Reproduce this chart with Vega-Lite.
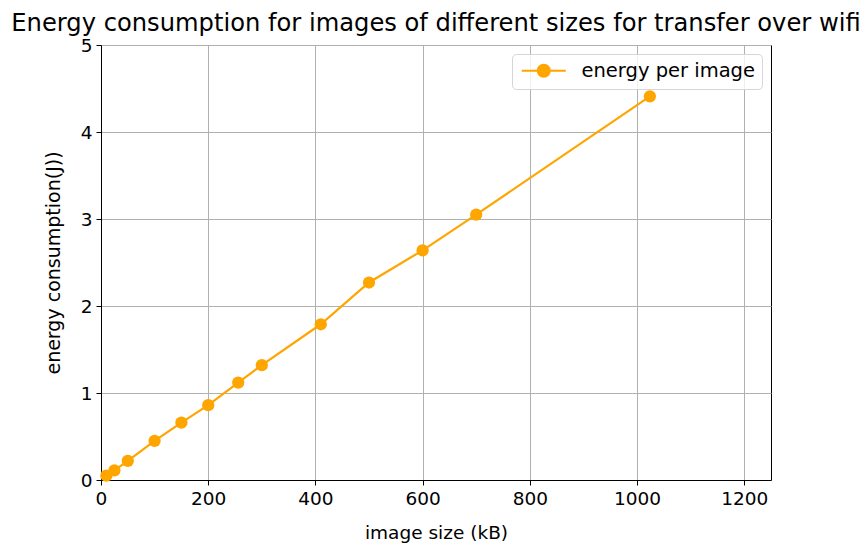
{
  "$schema": "https://vega.github.io/schema/vega-lite/v6.json",
  "width": 670,
  "height": 435,
  "autosize": "none",
  "padding": {"left": 101, "top": 45, "right": 96, "bottom": 70},
  "background": "white",
  "title": {
    "text": "Energy consumption for images of different sizes for transfer over wifi",
    "fontSize": 24.2,
    "font": "DejaVu Sans",
    "fontWeight": "normal",
    "color": "#000000",
    "anchor": "middle",
    "baseline": "alphabetic",
    "offset": 0,
    "dy": 19
  },
  "data": {
    "values": [
      {"size": 10, "energy": 0.05, "series": "energy per image"},
      {"size": 25, "energy": 0.11, "series": "energy per image"},
      {"size": 50, "energy": 0.22, "series": "energy per image"},
      {"size": 100, "energy": 0.45, "series": "energy per image"},
      {"size": 150, "energy": 0.66, "series": "energy per image"},
      {"size": 200, "energy": 0.86, "series": "energy per image"},
      {"size": 256, "energy": 1.12, "series": "energy per image"},
      {"size": 300, "energy": 1.32, "series": "energy per image"},
      {"size": 410, "energy": 1.79, "series": "energy per image"},
      {"size": 500, "energy": 2.27, "series": "energy per image"},
      {"size": 600, "energy": 2.64, "series": "energy per image"},
      {"size": 700, "energy": 3.05, "series": "energy per image"},
      {"size": 1024, "energy": 4.41, "series": "energy per image"}
    ]
  },
  "mark": {
    "type": "line",
    "strokeWidth": 2.2,
    "point": {"filled": true, "size": 150, "opacity": 1}
  },
  "encoding": {
    "x": {
      "field": "size",
      "type": "quantitative",
      "title": "image size (kB)",
      "scale": {"domain": [0, 1250], "nice": false, "zero": false},
      "axis": {"values": [0, 200, 400, 600, 800, 1000, 1200], "format": "d"}
    },
    "y": {
      "field": "energy",
      "type": "quantitative",
      "title": "energy consumption(J))",
      "scale": {"domain": [0, 5], "nice": false},
      "axis": {"values": [0, 1, 2, 3, 4, 5], "format": "d", "titleFontSize": 19}
    },
    "color": {
      "field": "series",
      "type": "nominal",
      "scale": {"range": ["#FFA500"]},
      "legend": {
        "title": null,
        "orient": "top-right",
        "offset": 9,
        "symbolType": "M-1.17,0L6.17,0M1.5,0A1,1 0 1,1 3.5,0A1,1 0 1,1 1.5,0Z",
        "symbolSize": 144,
        "symbolStrokeWidth": 2.2,
        "symbolFillColor": "#FFA500",
        "symbolStrokeColor": "#FFA500",
        "symbolOpacity": 1,
        "labelFontSize": 19.5,
        "labelFont": "DejaVu Sans",
        "labelColor": "#000000",
        "labelOffset": 43,
        "labelLimit": 400,
        "padding": 7,
        "fillColor": "rgba(255,255,255,0.8)",
        "strokeColor": "#d6d6d6",
        "cornerRadius": 4
      }
    }
  },
  "config": {
    "view": {"stroke": "#000000", "strokeWidth": 1},
    "axis": {
      "domainColor": "#000000",
      "domainWidth": 1,
      "tickColor": "#000000",
      "tickSize": 5,
      "tickWidth": 1,
      "grid": true,
      "gridColor": "#b0b0b0",
      "gridWidth": 1,
      "labelFont": "DejaVu Sans",
      "labelFontSize": 18.5,
      "labelColor": "#000000",
      "labelPadding": 4,
      "titleFont": "DejaVu Sans",
      "titleFontSize": 18.5,
      "titleFontWeight": "normal",
      "titleColor": "#000000"
    },
    "axisX": {"labelFlush": false, "titlePadding": 16},
    "axisY": {"labelFlush": false, "titlePadding": 17}
  }
}
